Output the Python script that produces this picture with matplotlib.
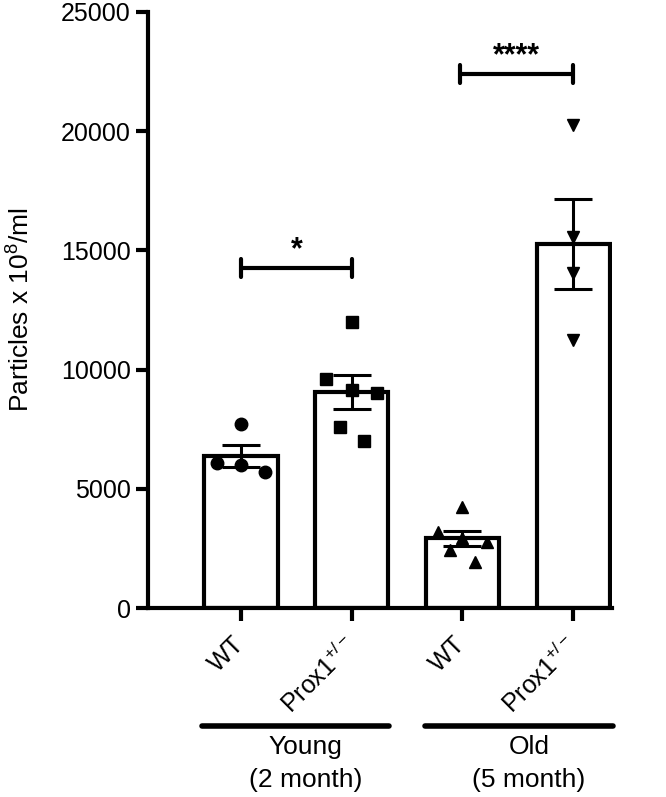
import numpy as np
import matplotlib
matplotlib.use('Agg')
import matplotlib.pyplot as plt
from matplotlib.transforms import ScaledTranslation

plt.rcParams['font.family'] = ['Liberation Sans', 'DejaVu Sans']
plt.rcParams['mathtext.fontset'] = 'custom'
plt.rcParams['mathtext.rm'] = 'Liberation Sans'
plt.rcParams['mathtext.it'] = 'Liberation Sans:italic'
plt.rcParams['mathtext.bf'] = 'Liberation Sans:bold'

# data
groups = ['WT', 'Prox1$^{+/-}$', 'WT', 'Prox1$^{+/-}$']
young_wt = [7720, 6070, 6000, 5690]
young_prox = [12010, 9590, 9140, 9000, 7600, 7000]
old_wt = [4240, 3190, 2940, 2770, 2430, 1930]
old_prox = [20260, 15560, 14050, 11240]
all_pts = [young_wt, young_prox, old_wt, old_prox]

# horizontal jitter of the scatter points (as drawn)
jitter = [[0, -0.22, 0, 0.22],
          [0, -0.23, 0, 0.23, -0.11, 0.11],
          [0, -0.22, 0, 0.22, -0.11, 0.11],
          [0, 0, 0, 0]]
markers = ['o', 's', '^', 'v']

means = [np.mean(p) for p in all_pts]
sems = [np.std(p, ddof=1) / np.sqrt(len(p)) for p in all_pts]

x = np.arange(len(groups))

fig = plt.figure(figsize=(6.66, 7.97), dpi=100)
ax = fig.add_axes([0.2222, 0.2371, 0.919 - 0.2222, 0.985 - 0.2371])

ax.bar(x, means, width=0.66, color='white', edgecolor='black', linewidth=3, zorder=1)
ax.errorbar(x, means, yerr=sems, fmt='none', ecolor='black', elinewidth=2.2,
            capsize=14, capthick=2.2, zorder=3)

for i, pts in enumerate(all_pts):
    ax.plot(x[i] + np.array(jitter[i]), pts, ls='none', marker=markers[i],
            ms=9 if markers[i] != 's' else 8, color='black', zorder=4)

# significance brackets
def bracket(x1, x2, y, label):
    ax.plot([x1, x2], [y, y], color='black', lw=3, solid_capstyle='round', clip_on=False)
    for xx in (x1, x2):
        ax.plot([xx, xx], [y - 380, y + 380], color='black', lw=3,
                solid_capstyle='round', clip_on=False)
    ax.text((x1 + x2) / 2, y + 420, label, ha='center', va='baseline',
            fontsize=22, fontweight='bold', clip_on=False)

bracket(0, 1, 14260, '*')
bracket(1.98, 3, 22400, '****')

ax.set_xlim(-0.84, 3.352)
ax.set_ylim(0, 25000)
ax.set_yticks([0, 5000, 10000, 15000, 20000, 25000])
ax.set_xticks(x)
ax.set_xticklabels(groups, rotation=45, ha='right', va='top', rotation_mode='anchor',
                   fontsize=18)
ax.tick_params(axis='both', width=3, length=9, labelsize=18)
ax.tick_params(axis='x', pad=6)
ax.set_ylabel('Particles x 10$^{8}$/ml', fontsize=19, labelpad=19)

# nudge rotated labels so their right end sits at the tick
shift = ScaledTranslation(-0.09, -0.03, fig.dpi_scale_trans)
for lab in ax.get_xticklabels():
    lab.set_transform(lab.get_transform() + shift)

for s in ['top', 'right']:
    ax.spines[s].set_visible(False)
for s in ['left', 'bottom']:
    ax.spines[s].set_linewidth(3)

# group labels below the axis
trans = ax.get_xaxis_transform()
for (x1, x2, lab) in [(-0.35, 1.34, 'Young\n(2 month)'),
                      (1.66, 3.36, 'Old\n(5 month)')]:
    ax.plot([x1, x2], [-0.198, -0.198], color='black', lw=4, transform=trans,
            clip_on=False, solid_capstyle='round')
    xc = (x1 + x2) / 2 + 0.09
    ax.text(xc, -0.213, lab, transform=trans, ha='center', va='top',
            fontsize=19, multialignment='center', linespacing=1.45)

plt.savefig('out.png', dpi=100)
plt.close()
